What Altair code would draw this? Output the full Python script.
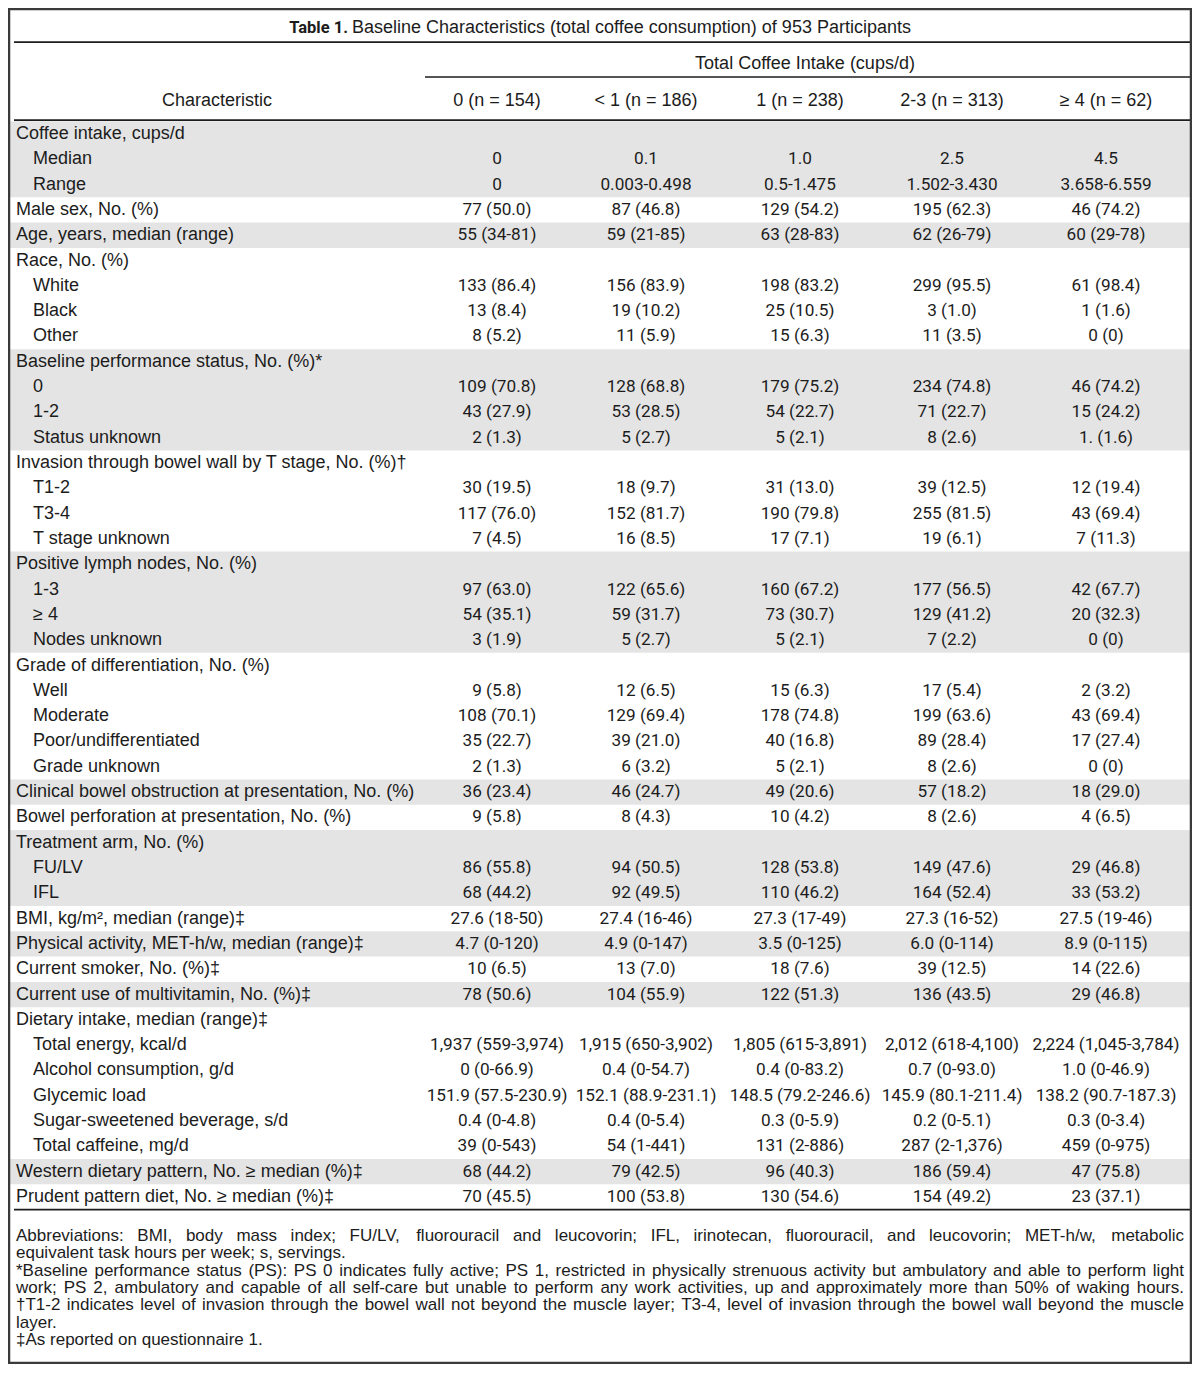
import altair as alt
import pandas as pd

# ---------------------------------------------------------------- data
TITLE_BOLD = "Table 1."
TITLE_TEXT = "Baseline Characteristics (total coffee consumption) of 953 Participants"
SPANNER = "Total Coffee Intake (cups/d)"
STUB_HEADER = "Characteristic"
COLUMN_HEADERS = ["0 (n = 154)", "< 1 (n = 186)", "1 (n = 238)", "2-3 (n = 313)", "\u2265 4 (n = 62)"]

LABELS = [
    "Coffee intake, cups/d", "Median", "Range",
    "Male sex, No. (%)",
    "Age, years, median (range)",
    "Race, No. (%)", "White", "Black", "Other",
    "Baseline performance status, No. (%)*", "0", "1-2", "Status unknown",
    "Invasion through bowel wall by T stage, No. (%)\u2020", "T1-2", "T3-4", "T stage unknown",
    "Positive lymph nodes, No. (%)", "1-3", "\u2265 4", "Nodes unknown",
    "Grade of differentiation, No. (%)", "Well", "Moderate", "Poor/undifferentiated", "Grade unknown",
    "Clinical bowel obstruction at presentation, No. (%)",
    "Bowel perforation at presentation, No. (%)",
    "Treatment arm, No. (%)", "FU/LV", "IFL",
    "BMI, kg/m\u00b2, median (range)\u2021",
    "Physical activity, MET-h/w, median (range)\u2021",
    "Current smoker, No. (%)\u2021",
    "Current use of multivitamin, No. (%)\u2021",
    "Dietary intake, median (range)\u2021", "Total energy, kcal/d", "Alcohol consumption, g/d",
    "Glycemic load", "Sugar-sweetened beverage, s/d", "Total caffeine, mg/d",
    "Western dietary pattern, No. \u2265 median (%)\u2021",
    "Prudent pattern diet, No. \u2265 median (%)\u2021",
]
INDENT = [0, 1, 1, 0, 0, 0, 1, 1, 1, 0, 1, 1, 1, 0, 1, 1, 1, 0, 1, 1, 1,
          0, 1, 1, 1, 1, 0, 0, 0, 1, 1, 0, 0, 0, 0, 0, 1, 1, 1, 1, 1, 0, 0]

COL_0 = ["", "0", "0", "77 (50.0)", "55 (34-81)", "", "133 (86.4)", "13 (8.4)", "8 (5.2)",
         "", "109 (70.8)", "43 (27.9)", "2 (1.3)", "", "30 (19.5)", "117 (76.0)", "7 (4.5)",
         "", "97 (63.0)", "54 (35.1)", "3 (1.9)", "", "9 (5.8)", "108 (70.1)", "35 (22.7)", "2 (1.3)",
         "36 (23.4)", "9 (5.8)", "", "86 (55.8)", "68 (44.2)", "27.6 (18-50)", "4.7 (0-120)",
         "10 (6.5)", "78 (50.6)", "", "1,937 (559-3,974)", "0 (0-66.9)", "151.9 (57.5-230.9)",
         "0.4 (0-4.8)", "39 (0-543)", "68 (44.2)", "70 (45.5)"]
COL_1 = ["", "0.1", "0.003-0.498", "87 (46.8)", "59 (21-85)", "", "156 (83.9)", "19 (10.2)", "11 (5.9)",
         "", "128 (68.8)", "53 (28.5)", "5 (2.7)", "", "18 (9.7)", "152 (81.7)", "16 (8.5)",
         "", "122 (65.6)", "59 (31.7)", "5 (2.7)", "", "12 (6.5)", "129 (69.4)", "39 (21.0)", "6 (3.2)",
         "46 (24.7)", "8 (4.3)", "", "94 (50.5)", "92 (49.5)", "27.4 (16-46)", "4.9 (0-147)",
         "13 (7.0)", "104 (55.9)", "", "1,915 (650-3,902)", "0.4 (0-54.7)", "152.1 (88.9-231.1)",
         "0.4 (0-5.4)", "54 (1-441)", "79 (42.5)", "100 (53.8)"]
COL_2 = ["", "1.0", "0.5-1.475", "129 (54.2)", "63 (28-83)", "", "198 (83.2)", "25 (10.5)", "15 (6.3)",
         "", "179 (75.2)", "54 (22.7)", "5 (2.1)", "", "31 (13.0)", "190 (79.8)", "17 (7.1)",
         "", "160 (67.2)", "73 (30.7)", "5 (2.1)", "", "15 (6.3)", "178 (74.8)", "40 (16.8)", "5 (2.1)",
         "49 (20.6)", "10 (4.2)", "", "128 (53.8)", "110 (46.2)", "27.3 (17-49)", "3.5 (0-125)",
         "18 (7.6)", "122 (51.3)", "", "1,805 (615-3,891)", "0.4 (0-83.2)", "148.5 (79.2-246.6)",
         "0.3 (0-5.9)", "131 (2-886)", "96 (40.3)", "130 (54.6)"]
COL_3 = ["", "2.5", "1.502-3.430", "195 (62.3)", "62 (26-79)", "", "299 (95.5)", "3 (1.0)", "11 (3.5)",
         "", "234 (74.8)", "71 (22.7)", "8 (2.6)", "", "39 (12.5)", "255 (81.5)", "19 (6.1)",
         "", "177 (56.5)", "129 (41.2)", "7 (2.2)", "", "17 (5.4)", "199 (63.6)", "89 (28.4)", "8 (2.6)",
         "57 (18.2)", "8 (2.6)", "", "149 (47.6)", "164 (52.4)", "27.3 (16-52)", "6.0 (0-114)",
         "39 (12.5)", "136 (43.5)", "", "2,012 (618-4,100)", "0.7 (0-93.0)", "145.9 (80.1-211.4)",
         "0.2 (0-5.1)", "287 (2-1,376)", "186 (59.4)", "154 (49.2)"]
COL_4 = ["", "4.5", "3.658-6.559", "46 (74.2)", "60 (29-78)", "", "61 (98.4)", "1 (1.6)", "0 (0)",
         "", "46 (74.2)", "15 (24.2)", "1. (1.6)", "", "12 (19.4)", "43 (69.4)", "7 (11.3)",
         "", "42 (67.7)", "20 (32.3)", "0 (0)", "", "2 (3.2)", "43 (69.4)", "17 (27.4)", "0 (0)",
         "18 (29.0)", "4 (6.5)", "", "29 (46.8)", "33 (53.2)", "27.5 (19-46)", "8.9 (0-115)",
         "14 (22.6)", "29 (46.8)", "", "2,224 (1,045-3,784)", "1.0 (0-46.9)", "138.2 (90.7-187.3)",
         "0.3 (0-3.4)", "459 (0-975)", "47 (75.8)", "23 (37.1)"]
COLUMNS = [COL_0, COL_1, COL_2, COL_3, COL_4]

FOOTNOTES = [
    "Abbreviations: BMI, body mass index; FU/LV, fluorouracil and leucovorin; IFL, irinotecan, fluorouracil, and leucovorin; MET-h/w, metabolic",
    "equivalent task hours per week; s, servings.",
    "*Baseline performance status (PS): PS 0 indicates fully active; PS 1, restricted in physically strenuous activity but ambulatory and able to perform light",
    "work; PS 2, ambulatory and capable of all self-care but unable to perform any work activities, up and approximately more than 50% of waking hours.",
    "\u2020T1-2 indicates level of invasion through the bowel wall not beyond the muscle layer; T3-4, level of invasion through the bowel wall beyond the muscle",
    "layer.",
    "\u2021As reported on questionnaire 1.",
]
FOOT_JUSTIFIED = [True, False, True, True, True, False, False]

# ---------------------------------------------------------------- layout
W, H = 1184, 1356
ROW_PX = 25.31          # pixel height of one table row
ROW0_Y = 126            # pixel centre of first body row
N = len(LABELS)

TITLE_ROW, TOP_RULE = -4.19, -3.63
SPAN_ROW, SPAN_RULE = -2.77, -2.25
HEAD_ROW, HEAD_RULE = -1.30, -0.55
BOTTOM_RULE = N - 0.5
FOOT_ROW0, FOOT_STEP = 43.54, 0.685

LABEL_X, SUB_X, STUB_X = 8, 25, 209
COL_X = [489, 638, 792, 944, 1098]
SPAN_X, TITLE_SPLIT_X = 797, 342
RULE_L, RULE_R, SPAN_RULE_L = 6, 1182, 417
FOOT_L, FOOT_R = 8, 1176

LABEL_FONT = "Liberation Sans"
DATA_FONT = "Roboto"
LABEL_SIZE, DATA_SIZE, FOOT_SIZE = 18, 17.2, 17
INK = "#1c1c1c"
SHADE = "#e4e4e4"

XS = alt.Scale(domain=[0, W], range=[0, W], zero=False, nice=False)
YS = alt.Scale(domain=[-ROW0_Y / ROW_PX, (H - ROW0_Y) / ROW_PX], range=[0, H], zero=False, nice=False)


def enc(ch, **kw):
    return ch.encode(
        x=alt.X("x:Q", scale=XS, axis=None),
        y=alt.Y("y:Q", scale=YS, axis=None),
        text=alt.Text("text:N"),
        **kw,
    )

# ---------------------------------------------------------------- shading blocks (alternate groups)
groups, g = [], -1
for ind in INDENT:
    if ind == 0:
        g += 1
    groups.append(g)
blocks = []
for gid in sorted(set(groups)):
    if gid % 2 == 0:
        rows = [i for i, gg in enumerate(groups) if gg == gid]
        blocks.append({"y0": rows[0] - 0.5, "y1": rows[-1] + 0.5})
shade = alt.Chart(pd.DataFrame(blocks)).mark_rect(color=SHADE).encode(
    x=alt.value(0), x2=alt.value(W),
    y=alt.Y("y0:Q", scale=YS, axis=None), y2="y1:Q",
)

# ---------------------------------------------------------------- rules
rules_df = pd.DataFrame({"y": [TOP_RULE, HEAD_RULE, BOTTOM_RULE]})
rules = alt.Chart(rules_df).mark_rule(color=INK, strokeWidth=1.8).encode(
    x=alt.value(RULE_L), x2=alt.value(RULE_R), y=alt.Y("y:Q", scale=YS, axis=None))
span_rule = alt.Chart(pd.DataFrame({"y": [SPAN_RULE]})).mark_rule(color=INK, strokeWidth=1.6).encode(
    x=alt.value(SPAN_RULE_L), x2=alt.value(RULE_R), y=alt.Y("y:Q", scale=YS, axis=None))
frame = alt.Chart(pd.DataFrame({"a": [0]})).mark_rect(
    filled=False, stroke="#3a3a3a", strokeWidth=2.5).encode(
    x=alt.value(1), x2=alt.value(W - 1), y=alt.value(1), y2=alt.value(H - 1))

# ---------------------------------------------------------------- title & headers
title_b = enc(alt.Chart(pd.DataFrame({"x": [TITLE_SPLIT_X], "y": [TITLE_ROW], "text": [TITLE_BOLD]}))
              .mark_text(align="right", baseline="middle", font="Roboto", fontWeight="bold",
                         fontSize=16.5, color=INK, dx=-2))
title_r = enc(alt.Chart(pd.DataFrame({"x": [TITLE_SPLIT_X], "y": [TITLE_ROW], "text": [TITLE_TEXT]}))
              .mark_text(align="left", baseline="middle", font=LABEL_FONT, fontSize=LABEL_SIZE,
                         color=INK, dx=2))
head_df = pd.DataFrame({
    "x": [SPAN_X, STUB_X] + COL_X,
    "y": [SPAN_ROW, HEAD_ROW] + [HEAD_ROW] * len(COL_X),
    "text": [SPANNER, STUB_HEADER] + COLUMN_HEADERS,
})
heads = enc(alt.Chart(head_df).mark_text(align="center", baseline="middle", font=LABEL_FONT,
                                         fontSize=LABEL_SIZE, color=INK))

# ---------------------------------------------------------------- body
lab_df = pd.DataFrame({
    "x": [SUB_X if ind else LABEL_X for ind in INDENT],
    "y": list(range(N)),
    "text": LABELS,
})
labels = enc(alt.Chart(lab_df).mark_text(align="left", baseline="middle", font=LABEL_FONT,
                                         fontSize=LABEL_SIZE, color=INK))
cells = []
for ci, col in enumerate(COLUMNS):
    for ri, v in enumerate(col):
        if v:
            cells.append({"x": COL_X[ci], "y": ri, "text": v})
body = enc(alt.Chart(pd.DataFrame(cells)).mark_text(align="center", baseline="middle", font=DATA_FONT,
                                                    fontSize=DATA_SIZE, color=INK))

# ---------------------------------------------------------------- footnotes (justified with Arial metrics)
AW = {" ": 278, "!": 278, "%": 889, "(": 333, ")": 333, "*": 389, ",": 278, "-": 333, ".": 278,
      "/": 278, ":": 278, ";": 278, "=": 584, "\u2020": 556, "\u2021": 556,
      "0": 556, "1": 556, "2": 556, "3": 556, "4": 556, "5": 556, "6": 556, "7": 556, "8": 556, "9": 556,
      "A": 667, "B": 667, "C": 722, "D": 722, "E": 667, "F": 611, "G": 778, "H": 722, "I": 278,
      "J": 500, "K": 667, "L": 556, "M": 833, "N": 722, "O": 778, "P": 667, "Q": 778, "R": 722,
      "S": 667, "T": 611, "U": 722, "V": 667, "W": 944, "X": 667, "Y": 667, "Z": 611,
      "a": 556, "b": 556, "c": 500, "d": 556, "e": 556, "f": 278, "g": 556, "h": 556, "i": 222,
      "j": 222, "k": 500, "l": 222, "m": 833, "n": 556, "o": 556, "p": 556, "q": 556, "r": 333,
      "s": 500, "t": 278, "u": 556, "v": 500, "w": 722, "x": 500, "y": 500, "z": 500}


def tw(s, size):
    return sum(AW.get(ch, 556) for ch in s) * size / 1000.0


foot_rows = []
for li, (line, just) in enumerate(zip(FOOTNOTES, FOOT_JUSTIFIED)):
    yv = FOOT_ROW0 + li * FOOT_STEP
    if just:
        words = line.split(" ")
        widths = [tw(w, FOOT_SIZE) for w in words]
        gap = (FOOT_R - FOOT_L - sum(widths)) / (len(words) - 1)
        xx = FOOT_L
        for w, wd in zip(words, widths):
            foot_rows.append({"x": xx, "y": yv, "text": w})
            xx += wd + gap
    else:
        foot_rows.append({"x": FOOT_L, "y": yv, "text": line})
foot = enc(alt.Chart(pd.DataFrame(foot_rows)).mark_text(align="left", baseline="middle",
                                                        font=LABEL_FONT, fontSize=FOOT_SIZE, color=INK))

chart = alt.layer(shade, rules, span_rule, frame, title_b, title_r, heads, labels, body, foot).properties(
    width=W, height=H, padding=0, autosize=alt.AutoSizeParams(type="none"),
    background="white",
).configure_view(stroke=None)

chart.save("out.html", embed_options={"renderer": "svg", "actions": False})
